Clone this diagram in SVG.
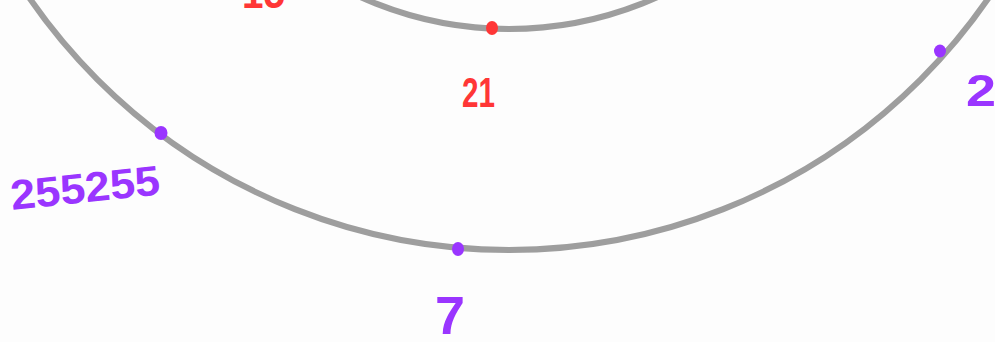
<svg xmlns="http://www.w3.org/2000/svg" width="995" height="342" viewBox="0 0 995 342">
  <style>
    .ring { fill: none; stroke: #9e9e9e; stroke-width: 6; }
    .lbl { font-family: "Liberation Sans", "DejaVu Sans", sans-serif; font-weight: bold; }
    .red { fill: #ff3636; }
    .pur { fill: #9a35ff; }
  </style>
  <rect width="995" height="342" fill="#fdfdfd"/>
  <g id="connectors">
    <circle class="ring" cx="509" cy="-332" r="582"/>
    <circle class="ring" cx="509" cy="-332" r="361"/>
  </g>
  <g id="node-15">
    <text class="lbl red" x="242" y="8" font-size="44" textLength="43" lengthAdjust="spacingAndGlyphs">15</text>
  </g>
  <g id="node-21">
    <ellipse class="red" cx="492" cy="28" rx="6" ry="7"/>
    <text class="lbl red" x="462" y="107" font-size="43" textLength="33" lengthAdjust="spacingAndGlyphs">21</text>
  </g>
  <g id="node-2">
    <ellipse class="pur" cx="940" cy="51" rx="6" ry="6.5"/>
    <text class="lbl pur" x="966" y="106" font-size="44" textLength="30" lengthAdjust="spacingAndGlyphs">2</text>
  </g>
  <g id="node-255255">
    <ellipse class="pur" cx="161" cy="133" rx="6.5" ry="7"/>
    <text class="lbl pur" x="12" y="210" font-size="42" textLength="150" lengthAdjust="spacingAndGlyphs" transform="rotate(-6 12 210)">255255</text>
  </g>
  <g id="node-7">
    <ellipse class="pur" cx="458" cy="249" rx="6" ry="7"/>
    <text class="lbl pur" x="435" y="334" font-size="54" textLength="30" lengthAdjust="spacingAndGlyphs">7</text>
  </g>
</svg>
